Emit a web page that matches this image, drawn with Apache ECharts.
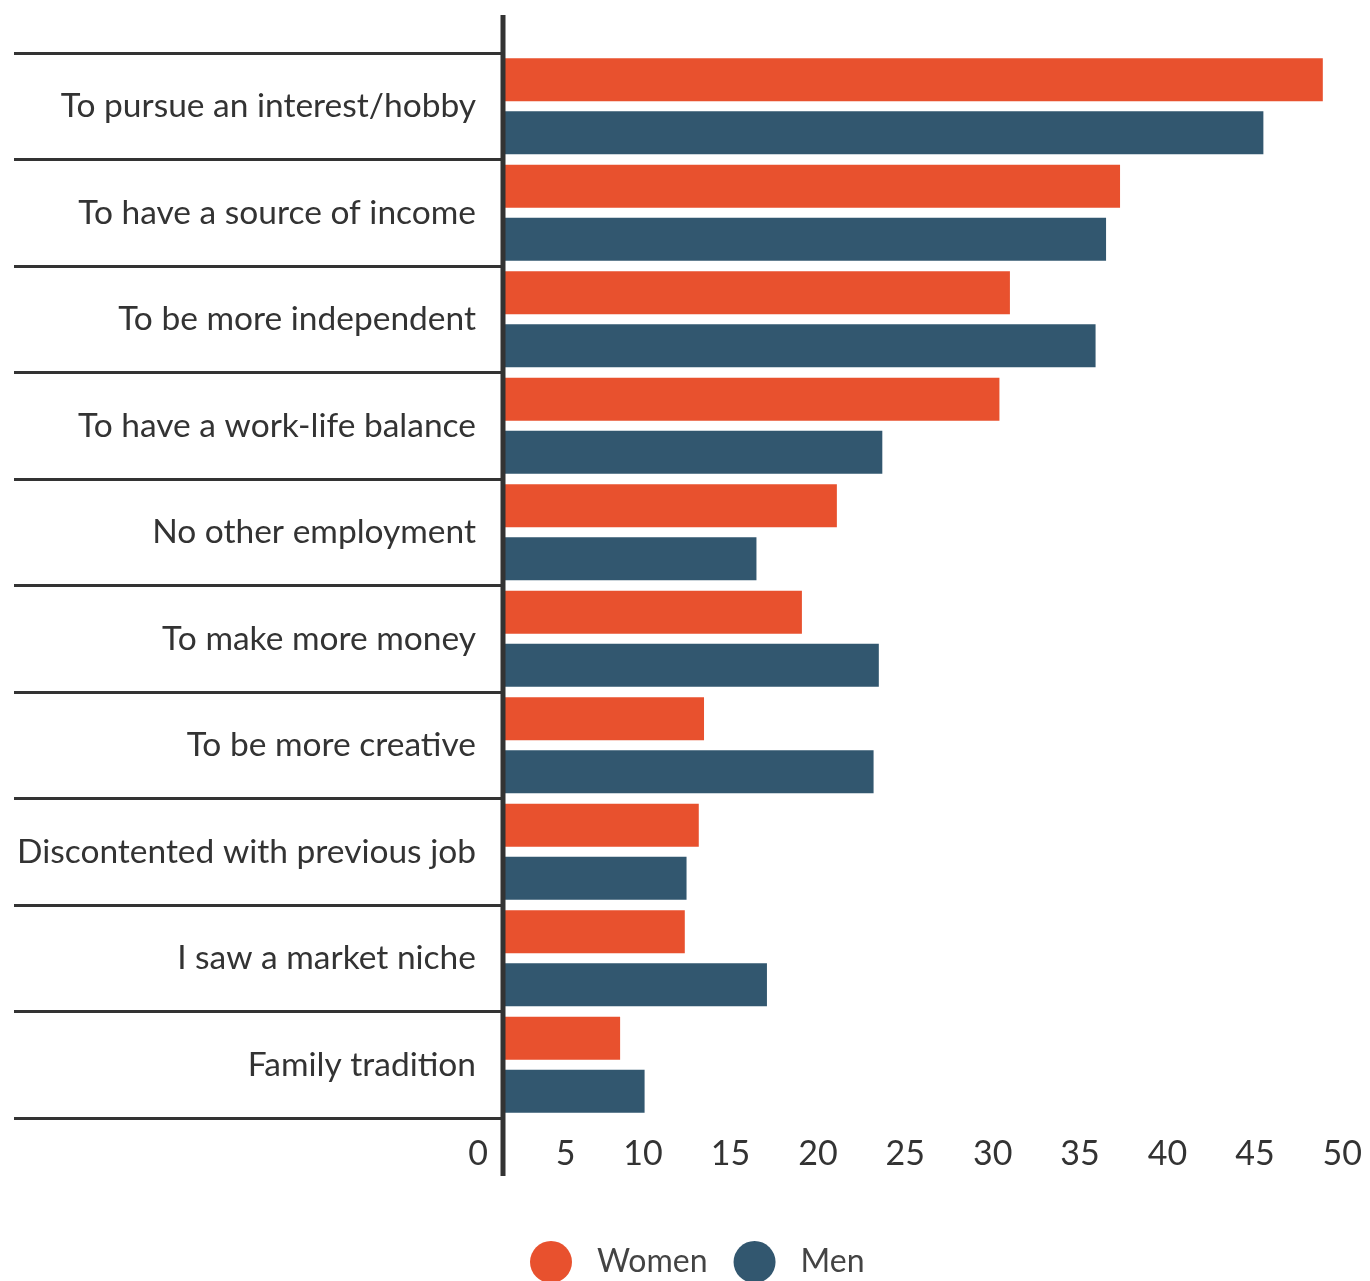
<!DOCTYPE html>
<html>
<head>
<meta charset="utf-8">
<style>
  html, body { margin: 0; padding: 0; background: #ffffff; overflow: hidden; }
  #chart { width: 1377px; height: 1281px; }
</style>
<script src="https://cdn.jsdelivr.net/npm/echarts@6/dist/echarts.min.js"></script>
</head>
<body>
<div id="chart"></div>
<script>
const categories = [
  "To pursue an interest/hobby",
  "To have a source of income",
  "To be more independent",
  "To have a work-life balance",
  "No other employment",
  "To make more money",
  "To be more creative",
  "Discontented with previous job",
  "I saw a market niche",
  "Family tradition"
];
const women = [46.9, 35.3, 29.0, 28.4, 19.1, 17.1, 11.5, 11.2, 10.4, 6.7];
const men   = [43.5, 34.5, 33.9, 21.7, 14.5, 21.5, 21.2, 10.5, 15.1, 8.1];
const seriesNames = ["Women", "Men"];
const xTicks = { min: 0, max: 50, interval: 5 };

const FONT = "Lato, 'Noto Sans', sans-serif";
const TEXT = "#333333";
const LINE = "#333333";
const COLORS = ["#E8512E", "#32576F"];

const chart = echarts.init(document.getElementById("chart"), null, { renderer: "canvas" });

const option = {
  animation: false,
  backgroundColor: "#ffffff",
  color: COLORS,
  textStyle: { fontFamily: FONT },
  grid: { left: 503, right: 0, top: 53, bottom: 163, containLabel: false },
  legend: {
    data: seriesNames,
    left: 530,
    top: 1241,
    padding: 0,
    icon: "circle",
    itemWidth: 42,
    itemHeight: 42,
    itemGap: 26,
    textStyle: { fontFamily: FONT, fontSize: 32, color: "#444444", padding: [0, 0, 0, 20] }
  },
  xAxis: {
    type: "value",
    min: xTicks.min,
    max: xTicks.max,
    interval: xTicks.interval,
    axisLine: { show: false },
    axisTick: { show: false },
    splitLine: { show: false },
    axisLabel: {
      margin: 19,
      align: "right",
      padding: [0, 15, 0, 0],
      fontFamily: FONT,
      fontSize: 34,
      color: TEXT
    }
  },
  yAxis: {
    type: "category",
    data: categories,
    inverse: true,
    boundaryGap: true,
    axisLine: { show: false },
    axisTick: {
      show: true,
      length: 489,
      lineStyle: { color: LINE, width: 3 }
    },
    axisLabel: {
      margin: 27,
      fontFamily: FONT,
      fontSize: 33.5,
      color: TEXT
    },
    splitLine: { show: false }
  },
  series: [
    {
      name: seriesNames[0],
      type: "bar",
      data: women,
      barWidth: 43,
      barGap: "23%",
      itemStyle: { color: COLORS[0] }
    },
    {
      name: seriesNames[1],
      type: "bar",
      data: men,
      barWidth: 43,
      barGap: "23%",
      itemStyle: { color: COLORS[1] }
    }
  ]
};

chart.setOption(option);

// Vertical axis line extending above and below the plotting area
const x0 = chart.convertToPixel({ xAxisIndex: 0 }, 0);
const gridTop = 53, gridBottom = 1281 - 163;
chart.setOption({
  graphic: [{
    type: "line",
    z: 100,
    shape: { x1: x0, y1: gridTop - 38, x2: x0, y2: gridBottom + 58 },
    style: { stroke: LINE, lineWidth: 5 }
  }]
});
</script>
</body>
</html>
